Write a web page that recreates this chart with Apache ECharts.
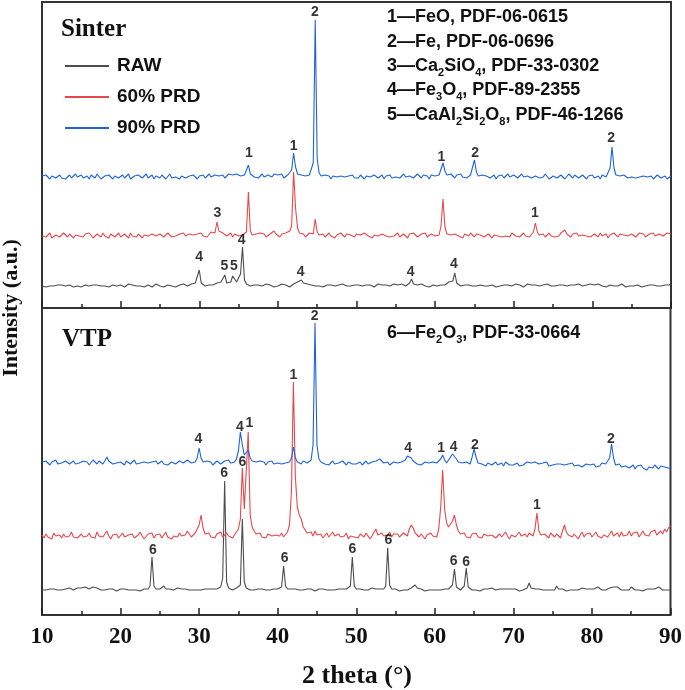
<!DOCTYPE html>
<html>
<head>
<meta charset="utf-8">
<script src="https://cdn.jsdelivr.net/npm/echarts@6/dist/echarts.min.js"></script>
<style>
html,body{margin:0;padding:0;background:#fff;}
#chart{width:685px;height:690px;}
</style>
</head>
<body>
<div id="chart"></div>
<script>
// ---- Data (2 theta from 10 to 90 in steps of 0.25 deg), intensities in a.u. above each trace baseline ----
const THETA_START = 10;
const THETA_STEP = 0.25;
const xTicks = ['10','20','30','40','50','60','70','80','90'];
const seriesNames = ['RAW', '60% PRD', '90% PRD'];

// Sinter panel
const sinter90 = [
1,-1,2,0,-2,1,3,-1,0,2,-1,1,-2,0,2,-1,1,3,0,-1,
2,-1,0,1,-2,2,0,-1,3,1,-2,0,1,-1,2,0,-2,1,2,-1,
0,2,-1,1,3,-2,0,1,-1,2,0,-1,1,3,-1,0,2,-2,1,0,
-1,2,1,-2,0,3,-1,1,0,2,-2,1,3,-1,0,1,-1,2,0,-2,
1,0,2,-1,1,3,0,-1,2,4,1,0,2,-1,1,3,5,2,0,3,
4,1,0,2,3,12,3,1,0,2,-1,1,3,0,-1,2,1,0,3,5,
2,0,3,-1,1,2,4,7,24,10,3,1,2,0,1,-1,2,4,14,157,
18,4,1,-1,2,0,1,-2,1,2,0,-1,1,3,0,-2,1,0,2,-1,
1,-1,2,0,-2,1,3,0,-1,2,1,-1,0,2,-2,1,0,2,-1,1,
0,2,-1,1,3,0,-2,1,2,-1,0,3,1,-1,2,0,1,-2,2,3,
1,0,2,8,14,6,2,0,3,1,-1,2,1,3,0,2,-1,1,2,4,
17,5,1,-1,2,0,1,3,-1,0,2,-2,1,0,2,-1,1,3,0,-1,
2,0,-1,1,3,0,-2,1,2,-1,0,1,2,-1,1,0,3,1,-2,0,
1,2,-1,0,2,1,-2,0,3,1,-1,2,0,-1,1,2,0,-2,1,0,
2,-1,0,1,-2,2,1,0,2,9,30,9,2,0,1,-1,2,0,-1,1,
0,2,-1,1,0,-2,1,2,0,-1,1,-2,0,2,1,-1,0,1,-2,0,
1];
const sinter60 = [
0,2,-1,1,3,-2,0,1,2,-1,0,3,1,-1,2,0,-2,1,2,0,
1,-1,2,0,3,1,-2,0,2,1,-1,3,0,1,-2,2,0,-1,1,3,
-1,0,2,1,-2,3,0,1,-1,2,0,-2,1,3,0,-1,2,1,0,-2,
2,1,-1,0,3,2,-1,1,0,-2,2,1,3,0,-1,2,4,1,0,2,
1,3,0,2,-1,1,4,2,3,14,5,7,3,2,0,1,3,-1,2,1,
0,2,1,3,4,44,5,1,-1,2,0,3,1,2,-1,0,2,1,5,2,
1,-1,2,0,3,1,5,10,64,28,8,3,1,2,-1,0,3,1,2,17,
4,1,0,2,-1,1,3,0,2,-2,1,0,3,1,-1,2,0,1,3,-1,
2,0,1,-1,3,1,0,2,-2,1,3,0,-1,2,1,0,2,-1,1,0,
1,3,-1,0,2,1,-2,2,0,3,1,-1,0,2,1,3,-1,0,2,1,
0,2,1,10,37,9,2,0,1,-1,2,3,0,1,-2,2,1,0,3,1,
-1,2,0,1,3,-1,0,2,1,-2,1,3,0,2,-1,1,0,2,-1,3,
1,0,2,-1,1,3,0,2,-1,1,4,13,4,1,0,2,-1,1,3,0,
2,-1,1,0,3,1,6,2,0,-1,2,1,3,0,-2,1,2,0,1,-1,
0,2,1,-1,3,0,1,2,-2,1,0,3,1,-1,2,0,1,3,0,-1,
2,1,-1,0,3,1,2,-1,0,2,1,3,0,-1,2,1,0,2,3,1,
2];
const sinterRaw = [
0,1,-1,1,0,2,0,-1,1,0,1,-1,0,2,1,0,-1,1,0,1,
-1,0,1,2,0,-1,1,0,1,-1,0,2,0,1,-1,0,1,1,0,-1,
1,0,-1,1,2,0,1,-1,0,1,0,2,-1,0,1,0,-1,1,2,0,
0,1,-1,0,1,2,0,1,-1,0,1,0,2,1,0,1,2,1,3,3,
16,3,1,0,2,1,2,1,3,3,2,4,3,11,3,2,4,10,7,4,
5,12,39,6,2,1,0,2,1,0,1,-1,0,1,2,0,1,0,-1,1,
0,1,2,0,1,0,-1,1,2,1,4,3,6,3,1,2,0,1,-1,0,
1,0,2,-1,0,1,0,1,2,0,-1,1,0,2,1,0,1,0,2,1,
0,1,-1,0,2,1,0,1,0,-1,1,2,0,1,0,1,-1,0,1,2,
0,1,0,2,1,0,-1,3,7,2,0,1,0,2,1,0,1,-1,0,1,
1,0,2,1,0,1,2,4,3,5,13,3,1,0,2,1,0,1,2,0,
1,0,-1,1,2,0,1,0,2,1,0,-1,1,0,2,1,0,1,-1,0,
1,2,0,1,0,-1,1,2,0,1,0,1,2,0,-1,1,0,2,1,0,
1,0,2,1,0,1,-1,0,2,1,0,1,0,2,1,0,-1,1,0,2,
0,1,0,2,1,0,1,-1,0,1,2,0,1,0,1,2,0,-1,1,0,
1,0,2,1,0,-1,1,0,2,1,0,1,2,0,1,0,2,1,0,1,
2];

// VTP panel
const vtp90 = [
1,-1,2,0,-2,1,0,3,-1,1,0,-2,2,1,-1,0,2,-1,1,0,
-1,2,0,1,-2,0,3,1,-1,2,0,-1,2,6,2,0,-1,1,0,-2,
1,0,-2,2,1,-1,0,3,-1,1,0,-2,1,2,0,-1,1,0,2,-1,
0,2,-1,1,-2,0,1,3,-1,0,2,1,0,-1,3,1,0,2,1,5,
15,5,1,-1,2,0,1,-2,0,2,1,-1,0,2,1,3,0,2,1,4,
12,31,18,8,9,13,5,2,0,1,-1,2,0,1,-2,1,0,2,-1,1,
0,2,-1,1,0,2,1,5,16,5,1,0,-1,2,1,0,2,3,18,140,
18,4,1,0,-1,1,-2,0,2,-1,1,0,-1,2,0,-2,1,0,-1,1,
-1,0,1,-2,0,2,-1,0,1,-1,2,1,4,2,0,-1,1,-2,0,1,
-1,0,-2,1,0,3,7,8,5,2,0,-1,1,-2,0,1,-1,0,-2,1,
-1,0,-2,4,8,3,0,-1,6,9,8,4,1,-1,0,-2,1,0,-1,6,
14,6,0,-2,-1,1,-3,0,-1,-2,0,1,-2,-1,0,-3,1,-1,-2,0,
-2,-1,0,-3,-1,-2,0,1,-1,0,-2,1,0,-1,-2,0,-1,1,-3,-1,
-2,0,-1,-3,-1,0,-2,-4,-1,-2,0,-3,-1,-2,0,-4,-2,-1,-3,-2,
-3,-1,-4,-2,-3,0,-2,-1,-3,5,19,5,-2,-3,-1,-4,-2,-3,-1,-5,
-3,-2,-6,-3,-4,-2,-5,-3,-7,-4,-3,-5,-2,-4,-6,-3,-5,-4,-6,-5,
-6];
const vtp60 = [
2,-1,3,0,1,-2,4,1,0,2,-1,3,0,-2,1,5,0,2,-1,1,
3,0,-2,1,4,0,2,-1,5,1,-1,0,3,6,1,-2,2,0,3,-1,
1,4,0,-2,2,1,3,-1,0,2,5,1,-2,0,3,1,4,-1,2,0,
3,-1,1,5,0,2,-2,1,3,0,4,1,-1,2,6,3,0,2,4,8,
12,22,9,3,1,4,0,2,-1,3,1,5,0,2,4,1,3,-1,2,5,
8,18,69,28,26,105,22,10,6,3,1,4,0,2,-1,3,5,1,0,2,
3,1,4,0,2,5,12,45,155,60,30,22,18,10,8,4,2,5,1,6,
2,0,3,-1,1,4,0,2,5,1,-1,3,0,2,1,4,-2,1,3,0,
2,-1,3,1,0,4,2,-2,1,3,8,2,0,4,1,-1,2,5,0,3,
1,3,0,-1,4,2,1,8,12,9,4,2,0,3,1,-2,2,0,4,1,
2,0,8,30,67,28,14,10,12,16,22,12,6,3,1,4,0,2,-1,3,
1,4,0,2,-1,3,5,1,0,2,4,-1,1,3,0,2,5,1,-2,2,
3,0,2,5,1,-1,3,0,4,2,1,8,24,6,2,0,3,1,-1,4,
2,0,3,1,-1,6,12,5,2,4,0,3,1,-2,2,5,0,3,1,4,
0,2,5,1,3,-1,2,4,0,3,6,1,2,4,0,5,1,3,2,6,
1,4,2,5,0,3,6,2,4,1,5,3,7,2,4,6,3,8,5,9,
11];
const vtpRaw = [
0,1,0,-1,1,0,1,2,0,1,0,-1,1,0,2,1,0,1,2,1,
2,1,3,2,1,2,3,1,2,1,0,1,0,-1,1,0,1,0,-1,0,
1,0,1,-1,0,1,0,2,0,1,-1,0,1,0,1,4,33,4,1,0,
1,0,4,1,0,1,-1,0,1,2,0,1,0,1,-1,0,1,0,1,0,
1,0,-1,1,0,1,0,1,2,1,0,3,12,109,8,2,1,0,1,2,
1,5,71,8,2,1,0,1,0,-1,1,0,1,2,0,1,0,2,1,0,
1,0,3,24,4,1,0,1,0,1,-1,0,1,0,2,1,0,1,0,-1,
0,1,0,1,-1,0,1,0,1,0,2,1,0,1,0,1,0,4,33,4,
1,0,1,-1,0,1,0,1,2,0,1,0,1,0,1,4,42,5,1,0,
1,0,-1,1,0,1,0,1,2,0,5,2,0,1,0,-1,1,0,1,0,
1,0,1,0,2,1,0,1,1,5,21,3,1,0,1,4,22,3,1,0,
1,0,1,-1,0,1,0,1,0,2,1,0,-1,1,0,1,0,1,0,1,
0,1,0,-1,1,0,1,2,7,2,0,1,0,1,-1,0,1,0,1,0,
1,0,4,1,0,1,0,-1,1,0,1,0,1,0,1,2,0,1,0,1,
0,1,0,3,1,0,1,0,1,2,1,3,2,3,1,0,1,0,1,0,
3,1,0,1,0,1,-1,0,1,0,1,0,1,0,3,1,0,1,0,1,
0];

// Peak annotations: [2 theta, intensity on panel scale, phase number]
const sinterPeakLabels = [
[36.3,155,'1'],[42.0,162,'1'],[44.7,296,'2'],[60.8,151,'1'],[65.1,155,'2'],[82.4,170,'2'],
[32.3,95,'3'],[72.7,95,'1'],
[30.0,51,'4'],[33.2,42,'5'],[34.4,42,'5'],[35.4,68,'4'],[42.9,36,'4'],[56.9,36,'4'],[62.4,44,'4']
];
const vtpPeakLabels = [
[44.7,299,'2'],[42.0,240,'1'],
[29.9,176,'4'],[35.2,188,'4'],[36.4,192,'1'],[56.6,167,'4'],[60.8,167,'1'],[62.4,168,'4'],[65.1,170,'2'],[82.4,176,'2'],
[33.2,142,'6'],[35.5,153,'6'],[73.0,110,'1'],
[24.1,65,'6'],[40.9,57,'6'],[49.5,66,'6'],[54.1,75,'6'],[62.4,54,'6'],[64.0,53,'6']
];
const phaseList = [
'1—FeO, PDF-06-0615',
'2—Fe, PDF-06-0696',
'3—Ca{s|2}SiO{s|4}, PDF-33-0302',
'4—Fe{s|3}O{s|4}, PDF-89-2355',
'5—CaAl{s|2}Si{s|2}O{s|8}, PDF-46-1266'
];
const phaseListVtp = ['6—Fe{s|2}O{s|3}, PDF-33-0664'];

// ---- presentation ----
const offsets = {sinter: [22, 72, 131], vtp: [25, 78, 152]};
const colors = ['#4d4d4d', '#e8484b', '#1f63dc'];

function toPoints(vals, off) {
  return vals.map((v, i) => [THETA_START + i * THETA_STEP, v + off]);
}

const chart = echarts.init(document.getElementById('chart'), null, {renderer: 'canvas'});

const serif = 'Liberation Serif';
const sans = 'Liberation Sans';

function xAxisCfg(gridIndex, showLabels) {
  return {
    type: 'value', gridIndex, min: 10, max: 90, interval: 10,
    axisLine: {show: false},
    axisTick: {show: true, inside: true, length: 7, lineStyle: {color: '#222', width: 1.5}},
    minorTick: {show: true, splitNumber: 2, length: 4, lineStyle: {color: '#222', width: 1.5}},
    splitLine: {show: false},
    axisLabel: showLabels ? {
      show: true, margin: 11, color: '#111', fontFamily: serif, fontWeight: 'bold', fontSize: 23,
      formatter: (v) => xTicks[Math.round((v - 10) / 10)]
    } : {show: false}
  };
}

const lineSeries = [];
const panels = [
  {key: 'sinter', data: [sinterRaw, sinter60, sinter90], axis: 0},
  {key: 'vtp', data: [vtpRaw, vtp60, vtp90], axis: 1}
];
panels.forEach(p => {
  p.data.forEach((vals, k) => {
    lineSeries.push({
      name: seriesNames[k], type: 'line', xAxisIndex: p.axis, yAxisIndex: p.axis,
      data: toPoints(vals, offsets[p.key][k]),
      showSymbol: false, symbol: 'none', silent: true,
      lineStyle: {color: colors[k], width: 1.1}, itemStyle: {color: colors[k]},
      z: 2 + k
    });
  });
});

function labelSeries(arr, idx) {
  return {
    type: 'scatter', xAxisIndex: idx, yAxisIndex: idx,
    dimensions: ['x', 'y', 'txt'],
    encode: {x: 'x', y: 'y'},
    data: arr,
    symbol: 'circle', symbolSize: 2, itemStyle: {color: 'rgba(0,0,0,0)'}, silent: true, z: 10,
    labelLayout: {hideOverlap: false},
    label: {show: true, position: 'inside', formatter: (p) => p.value[2],
      color: '#000', fontFamily: sans, fontWeight: 'bold', fontSize: 14}
  };
}

const richStyle = {
  s: {fontSize: 11, fontFamily: sans, fontWeight: 'bold', fill: '#111', color: '#111', verticalAlign: 'bottom', lineHeight: 24}
};
function phaseText(str, y) {
  return {
    type: 'text', left: 387, top: y - 12, z: 100,
    style: {text: str, fill: '#111', fontSize: 18, fontFamily: sans, fontWeight: 'bold', lineHeight: 24, rich: richStyle}
  };
}

const graphics = [];
[17, 42, 66, 90, 115].forEach((y, i) => graphics.push(phaseText(phaseList[i], y)));
graphics.push(phaseText(phaseListVtp[0], 333));
graphics.push({type: 'text', left: 61, top: 17, z: 100,
  style: {text: 'Sinter', fill: '#111', fontSize: 25, fontFamily: serif, fontWeight: 'bold'}});
graphics.push({type: 'text', left: 62, top: 327, z: 100,
  style: {text: 'VTP', fill: '#111', fontSize: 25, fontFamily: serif, fontWeight: 'bold'}});
graphics.push({type: 'text', x: 357, y: 676, z: 100,
  style: {text: '2 theta (°)', fill: '#111', fontSize: 26, fontFamily: serif, fontWeight: 'bold', align: 'center', verticalAlign: 'middle'}});
graphics.push({type: 'text', x: 11, y: 308, rotation: Math.PI / 2, z: 100,
  style: {text: 'Intensity (a.u.)', fill: '#111', fontSize: 22, fontFamily: serif, fontWeight: 'bold', align: 'center', verticalAlign: 'middle'}});

chart.setOption({
  animation: false,
  backgroundColor: '#fff',
  grid: [
    {left: 42, width: 629, top: 2, height: 306, show: true, borderColor: '#333', borderWidth: 2, backgroundColor: 'transparent'},
    {left: 42, width: 629, top: 308, height: 307, show: true, borderColor: '#333', borderWidth: 2, backgroundColor: 'transparent'}
  ],
  xAxis: [xAxisCfg(0, false), xAxisCfg(1, true)],
  yAxis: [
    {type: 'value', gridIndex: 0, min: 0, max: 306, show: false},
    {type: 'value', gridIndex: 1, min: 0, max: 307, show: false}
  ],
  legend: {
    data: seriesNames, orient: 'vertical', left: 65, top: 55, itemGap: 9, padding: 0,
    icon: 'rect', itemWidth: 44, itemHeight: 2,
    textStyle: {fontFamily: sans, fontWeight: 'bold', fontSize: 19, color: '#111', lineHeight: 22, padding: [0, 0, 0, 3]},
    selectedMode: false
  },
  graphic: graphics,
  series: lineSeries.concat([labelSeries(sinterPeakLabels, 0), labelSeries(vtpPeakLabels, 1)])
});
</script>
</body>
</html>
